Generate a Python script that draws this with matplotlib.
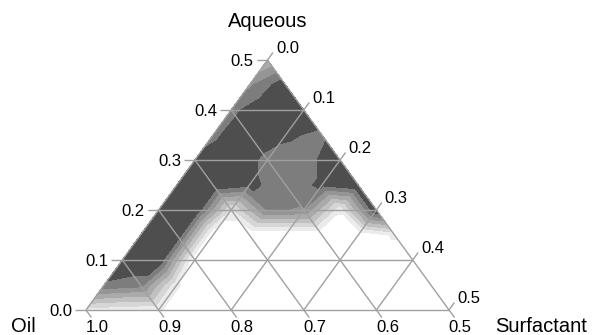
import numpy as np
import matplotlib
matplotlib.use("Agg")
import matplotlib.pyplot as plt
import matplotlib.tri as mtri
from matplotlib.colors import ListedColormap, BoundaryNorm

plt.rcParams['font.family'] = ['Liberation Sans', 'DejaVu Sans']

# composition grid spacing (aqueous / surfactant mass fraction)
step = 0.05

# phase score on the grid, one list per aqueous fraction,
# surfactant going 0 -> 0.5 - aqueous (oil makes up the rest)
aq_000 = [0.2, 0.15, 0.14, 0, 0, 0, 0, 0, 0, 0, 0]
aq_005 = [0.85, 0.8, 0.14, 0, 0, 0, 0, 0, 0, 0]
aq_010 = [1, 1, 0, 0, 0, 0, 0, 0, 0]
aq_015 = [1, 1, 0, 0, 0, 0, 0, 0.15]
aq_020 = [1, 1, 0.22, 0.76, 0.74, 0.15, 1]
aq_025 = [1, 1, 0.91, 0.8, 0.9, 1]
aq_030 = [0.9, 1, 0.83, 0.8, 1]
aq_035 = [0.84, 1, 0.9, 0.84]
aq_040 = [0.83, 1, 1]
aq_045 = [0.72, 0.97]
aq_050 = [0.5]
rows = [aq_000, aq_005, aq_010, aq_015, aq_020, aq_025,
        aq_030, aq_035, aq_040, aq_045, aq_050]

# top bound a bit above 1 so fully dark triangles still get filled
levels = [0, 0.125, 0.25, 0.375, 0.5, 0.625, 0.75, 0.875, 1.05]
shades = ['#ffffff', '#ebebeb', '#d6d6d6', '#c0c0c0',
          '#aaaaaa', '#959595', '#7d7d7d', '#4e4e4e']

tick_vals = [0.0, 0.1, 0.2, 0.3, 0.4, 0.5]
aq_labels = ['0.0', '0.1', '0.2', '0.3', '0.4', '0.5']
surf_labels = ['0.0', '0.1', '0.2', '0.3', '0.4', '0.5']
oil_labels = ['1.0', '0.9', '0.8', '0.7', '0.6', '0.5']


def tern(aq, surf):
    # cartesian position inside the partial triangle
    return surf + aq / 2.0, aq


xs, ys, zs = [], [], []
for i, row in enumerate(rows):
    for j, val in enumerate(row):
        x, y = tern(i * step, j * step)
        xs.append(x)
        ys.append(y)
        zs.append(val)

fig = plt.figure(figsize=(5.92, 3.35), dpi=100)
ax = fig.add_axes([86 / 592, 25 / 335, 363 / 592, 250 / 335])
ax.set_xlim(0, 0.5)
ax.set_ylim(0, 0.5)
ax.axis('off')

tri = mtri.Triangulation(xs, ys)
cmap = ListedColormap(shades)
norm = BoundaryNorm(levels, cmap.N)
ax.tricontourf(tri, zs, levels=levels, cmap=cmap, norm=norm)

t = 0.015
line_kw = dict(color='#a0a0a0', lw=1.0, clip_on=False, solid_capstyle='butt')
for v in tick_vals:
    # constant aqueous
    p0, p1 = tern(v, -t), tern(v, 0.5 - v)
    ax.plot([p0[0], p1[0]], [p0[1], p1[1]], **line_kw)
    # constant surfactant
    p0, p1 = tern(0, v), tern(0.5 - v + t, v)
    ax.plot([p0[0], p1[0]], [p0[1], p1[1]], **line_kw)
    # constant oil
    p0, p1 = tern(v, 0), tern(-t, v + t)
    ax.plot([p0[0], p1[0]], [p0[1], p1[1]], **line_kw)

lab_kw = dict(textcoords='offset pixels', fontsize=12, color='black',
              annotation_clip=False)
for v, s in zip(tick_vals, aq_labels):
    ax.annotate(s, tern(v, -t), xytext=(-3, -1), ha='right', va='center', **lab_kw)
for v, s in zip(tick_vals, surf_labels):
    ax.annotate(s, tern(0.5 - v + t, v), xytext=(3, 4), ha='left', va='center', **lab_kw)
for v, s in zip(tick_vals, oil_labels):
    ax.annotate(s, tern(0, v), xytext=(11, -10), ha='center', va='top', **lab_kw)

title_kw = dict(textcoords='offset pixels', fontsize=14.5, color='black',
                annotation_clip=False, ha='center', va='baseline')
ax.annotate('Aqueous', tern(0.5, 0), xytext=(0, 33), **title_kw)
ax.annotate('Oil', tern(0, 0), xytext=(-63, -22), **title_kw)
ax.annotate('Surfactant', tern(0, 0.5), xytext=(92, -22), **title_kw)

fig.savefig('out.png', dpi=100)
